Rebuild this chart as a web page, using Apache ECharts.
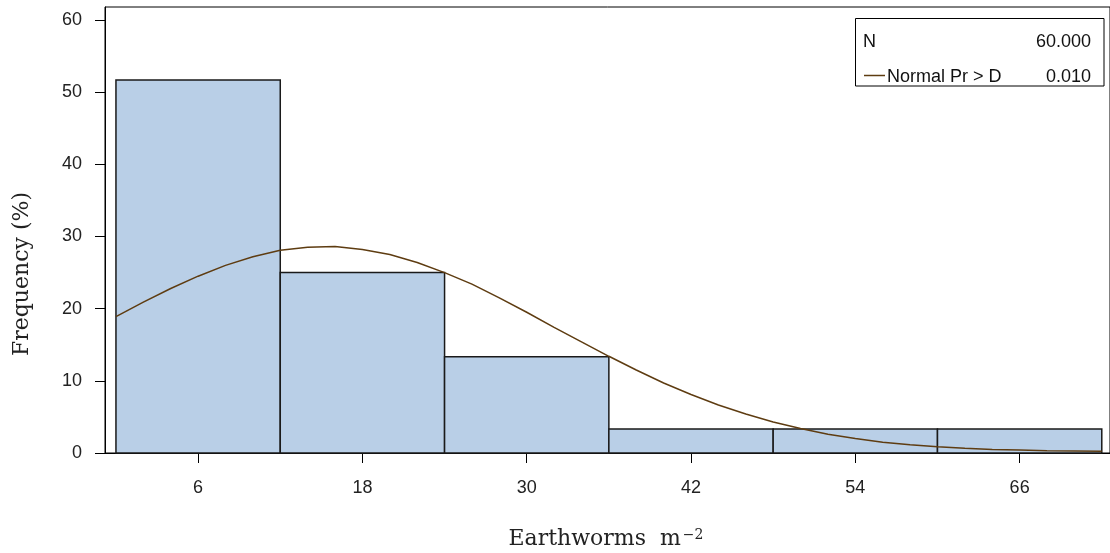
<!DOCTYPE html>
<html>
<head>
<meta charset="utf-8">
<script src="https://cdn.jsdelivr.net/npm/echarts@6/dist/echarts.min.js"></script>
<style>html,body{margin:0;padding:0;background:#fff;}#c{width:1110px;height:553px;}</style>
</head>
<body>
<div id="c"></div>
<script>
// Histogram bins (Earthworms m^-2) and frequency (%)
const binStart = [0, 12, 24, 36, 48, 60];
const binEnd = [12, 24, 36, 48, 60, 72];
const freq = [51.67, 25.0, 13.33, 3.33, 3.33, 3.33];
// Fitted normal curve
const curveX = [0, 2, 4, 6, 8, 10, 12, 14, 16, 18, 20, 22, 24, 26, 28, 30, 32, 34, 36, 38, 40, 42, 44, 46, 48, 50, 52, 54, 56, 58, 60, 62, 64, 66, 68, 70, 72];
const curveY = [18.9, 20.9, 22.8, 24.5, 26.0, 27.2, 28.1, 28.5, 28.6, 28.2, 27.5, 26.4, 25.0, 23.4, 21.5, 19.5, 17.4, 15.4, 13.4, 11.5, 9.7, 8.1, 6.65, 5.4, 4.3, 3.4, 2.6, 2.0, 1.5, 1.15, 0.85, 0.65, 0.5, 0.4, 0.3, 0.28, 0.25];
const xTicks = [6, 18, 30, 42, 54, 66];
const yTicks = [0, 10, 20, 30, 40, 50, 60];
const statLabels = ['N', 'Normal Pr > D'];
const statValues = ['60.000', '0.010'];

const chart = echarts.init(document.getElementById('c'), null, {renderer: 'canvas'});
const barData = binStart.map((s, i) => [s, binEnd[i], freq[i]]);
const lineData = curveX.map((x, i) => [x, curveY[i]]);
const tickFont = 'Liberation Sans, Arial, sans-serif';
const titleFont = 'DejaVu Serif, serif';

chart.setOption({
  animation: false,
  backgroundColor: '#fff',
  grid: {left: 105, top: 7, width: 1007, height: 446, show: true, borderColor: '#000', borderWidth: 1, containLabel: false},
  xAxis: {
    type: 'value', min: -0.8, max: 72.6,
    axisLine: {show: true, onZero: false, lineStyle: {color: '#000', width: 1}},
    axisTick: {show: true, length: 10, customValues: xTicks, lineStyle: {color: '#000', width: 1}},
    axisLabel: {customValues: xTicks, margin: 26, fontSize: 18, fontFamily: tickFont, color: '#222'},
    splitLine: {show: false}
  },
  yAxis: {
    type: 'value', min: 0, max: 61.8,
    axisLine: {show: true, onZero: false, lineStyle: {color: '#000', width: 1}},
    axisTick: {show: true, length: 10, customValues: yTicks, lineStyle: {color: '#000', width: 1}},
    axisLabel: {customValues: yTicks, margin: 23, fontSize: 18, fontFamily: tickFont, color: '#222'},
    splitLine: {show: false}
  },
  series: [
    {
      type: 'custom',
      data: barData,
      encode: {x: [0, 1], y: 2},
      renderItem: function (params, api) {
        const p0 = api.coord([api.value(0), api.value(2)]);
        const p1 = api.coord([api.value(1), 0]);
        return {
          type: 'rect',
          shape: {x: p0[0], y: p0[1], width: p1[0] - p0[0], height: p1[1] - p0[1]},
          style: {fill: '#B9CFE7', stroke: '#1a1a1a', lineWidth: 1.5}
        };
      },
      z: 2
    },
    {
      type: 'line',
      name: 'Normal',
      data: lineData,
      showSymbol: false,
      symbol: 'none',
      smooth: false,
      lineStyle: {color: '#5E3C11', width: 1.5},
      z: 3
    }
  ],
  graphic: [
    {type: 'text', x: 22, y: 274, rotation: Math.PI / 2,
     style: {text: 'Frequency (%)', fontSize: 22, fontFamily: titleFont, fill: '#222', align: 'center', verticalAlign: 'middle'}},
    {type: 'text', x: 606, y: 539,
     style: {text: '{a|Earthworms  m}{b|−2}', align: 'center', verticalAlign: 'middle', fill: '#222',
       rich: {a: {fontSize: 22, fontFamily: titleFont, fill: '#222'}, b: {fontSize: 14, fontFamily: titleFont, fill: '#222', verticalAlign: 'top', padding: [0, 0, 0, 2]}}}},
    {type: 'rect', shape: {x: 855.5, y: 18.5, width: 248.5, height: 67.5}, style: {fill: '#fff', stroke: '#000', lineWidth: 1}, z: 10},
    {type: 'text', x: 863, y: 42, z: 11, style: {text: statLabels[0], fontSize: 18, fontFamily: tickFont, fill: '#111', align: 'left', verticalAlign: 'middle'}},
    {type: 'text', x: 1091, y: 42, z: 11, style: {text: statValues[0], fontSize: 18, fontFamily: tickFont, fill: '#111', align: 'right', verticalAlign: 'middle'}},
    {type: 'line', z: 11, shape: {x1: 864, y1: 75.5, x2: 885, y2: 75.5}, style: {stroke: '#5E3C11', lineWidth: 1.5}},
    {type: 'text', x: 887, y: 77, z: 11, style: {text: statLabels[1], fontSize: 18, fontFamily: tickFont, fill: '#111', align: 'left', verticalAlign: 'middle'}},
    {type: 'text', x: 1091, y: 77, z: 11, style: {text: statValues[1], fontSize: 18, fontFamily: tickFont, fill: '#111', align: 'right', verticalAlign: 'middle'}}
  ]
});
</script>
</body>
</html>
